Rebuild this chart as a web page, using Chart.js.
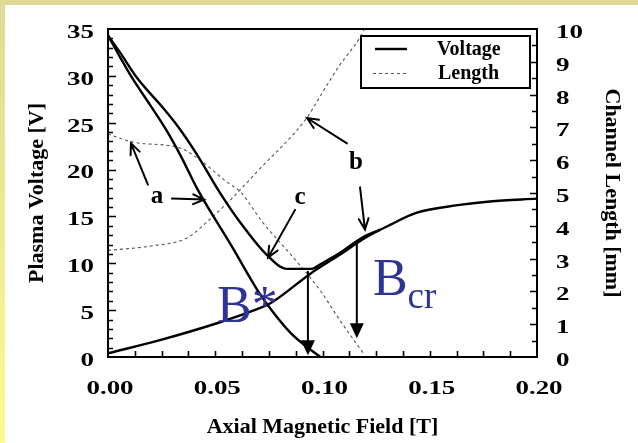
<!DOCTYPE html>
<html>
<head>
<meta charset="utf-8">
<script src="https://cdn.jsdelivr.net/npm/chart.js@4.4.0/dist/chart.umd.min.js"></script>
<style>
  html, body { margin: 0; padding: 0; }
  body { width: 638px; height: 443px; overflow: hidden; position: relative;
         background: linear-gradient(to bottom, #dfdb96, #fcfb8e); }
  #wrap { position: absolute; left: 5px; top: 5px; width: 633px; height: 438px; background: #fff; }
</style>
</head>
<body>
<div id="wrap"><canvas id="chart" width="633" height="438"></canvas></div>
<script>
// Voltage, curve "a" (drops to zero)
const fieldA   = [0, 0.0056, 0.0112, 0.0196, 0.0275, 0.0345, 0.0415, 0.058, 0.0695, 0.0746, 0.085, 0.092, 0.099];
const voltageA = [34.3, 32.0, 29.8, 26.9, 24.1, 21.2, 18.0, 11.7, 7.2, 5.5, 2.6, 1.2, 0];

// Voltage, curve "c" (drops to a plateau, then climbs)
const fieldC   = [0, 0.0056, 0.0135, 0.0256, 0.0326, 0.0415, 0.052, 0.0615, 0.074, 0.0834, 0.095, 0.099, 0.108, 0.119, 0.127];
const voltageC = [34.3, 32.5, 29.8, 26.6, 24.6, 21.6, 17.6, 14.4, 10.9, 9.4, 9.4, 9.9, 11.1, 12.8, 13.6];

// Voltage, rising branch
const fieldR   = [0, 0.0242, 0.0508, 0.0695, 0.0755, 0.095, 0.108, 0.119, 0.1315, 0.144, 0.163, 0.178, 0.2];
const voltageR = [0.4, 1.8, 3.6, 5.1, 5.7, 9.0, 10.9, 12.6, 14.1, 15.4, 16.2, 16.6, 16.9];

// Channel length, falling
const fieldLd  = [0, 0.0117, 0.0336, 0.043, 0.0555, 0.0615, 0.0723, 0.0862, 0.0988, 0.108, 0.119];
const lengthLd = [6.8, 6.55, 6.37, 6.0, 5.33, 5.05, 4.09, 3.05, 2.04, 1.13, 0.12];

// Channel length, rising
const fieldLu  = [0, 0.0196, 0.0368, 0.0475, 0.058, 0.0695, 0.0928, 0.0979, 0.1075, 0.118, 0.1195];
const lengthLu = [3.25, 3.38, 3.63, 4.2, 4.85, 5.65, 7.3, 7.84, 8.85, 9.8, 10];

const serif = '"Liberation Serif", "Times New Roman", serif';
const blue = '#2f3393';

const toPoints = (xs, ys) => xs.map((x, i) => ({ x, y: ys[i] }));

// arrows and labels, in (field, voltage) units
const pointers = [
  { from: [0.0186, 18.4], to: [0.0107, 22.8] },
  { from: [0.0298, 16.9], to: [0.0448, 16.8] },
  { from: [0.1114, 22.8], to: [0.0928, 25.5] },
  { from: [0.1175, 18.1], to: [0.1198, 13.6] },
  { from: [0.0872, 15.7], to: [0.0746, 10.6] }
];
const drops = [
  { x: 0.0932, top: 9.1, bottom: 0.2 },
  { x: 0.116, top: 12.0, bottom: 2.0 }
];
const letters = [
  { text: 'a', x: 0.0228, y: 17.1 },
  { text: 'b', x: 0.1156, y: 20.8 },
  { text: 'c', x: 0.0895, y: 17.0 }
];

const STRETCH = 1.42;
function wideText(ctx, str, x, y, align) {
  ctx.save();
  ctx.font = `bold 19px ${serif}`;
  const w = ctx.measureText(str).width * STRETCH;
  const left = align === 'right' ? x - w : align === 'center' ? x - w / 2 : x;
  ctx.translate(left, y);
  ctx.scale(STRETCH, 1);
  ctx.textAlign = 'left';
  ctx.textBaseline = 'middle';
  ctx.fillStyle = '#000';
  ctx.fillText(str, 0, 0);
  ctx.restore();
}

// frame, inward tick marks and tick labels
const axesPlugin = {
  id: 'axesFrame',
  afterDraw(chart) {
    const { ctx, chartArea: ca, scales: { x, y, y1 } } = chart;
    ctx.save();
    ctx.strokeStyle = '#000';
    ctx.lineWidth = 2;
    ctx.strokeRect(ca.left, ca.top, ca.right - ca.left, ca.bottom - ca.top);
    ctx.lineWidth = 1.6;
    ctx.beginPath();
    for (let v = 1; v < 35; v++) {
      const py = Math.round(y.getPixelForValue(v)) + 0.5;
      ctx.moveTo(ca.left, py);
      ctx.lineTo(ca.left + (v % 5 === 0 ? 8 : 5), py);
    }
    for (let k = 1; k < 20; k++) {
      const py = Math.round(y1.getPixelForValue(k / 2)) + 0.5;
      ctx.moveTo(ca.right, py);
      ctx.lineTo(ca.right - (k % 2 === 0 ? 7 : 5), py);
    }
    for (let k = 1; k < 16; k++) {
      const px = Math.round(x.getPixelForValue(k * 0.0125)) + 0.5;
      ctx.moveTo(px, ca.bottom);
      ctx.lineTo(px, ca.bottom - 6);
    }
    ctx.stroke();
    ctx.restore();

    y.ticks.forEach(t => wideText(ctx, String(t.value), ca.left - 14, y.getPixelForValue(t.value) + 4, 'right'));
    y1.ticks.forEach(t => wideText(ctx, String(t.value), ca.right + 19, y1.getPixelForValue(t.value) + 4, 'left'));
    x.ticks.forEach(t => wideText(ctx, t.value.toFixed(2), x.getPixelForValue(t.value) + 2, ca.bottom + 32, 'center'));
  }
};

function openArrow(ctx, x0, y0, x1, y1) {
  const ang = Math.atan2(y1 - y0, x1 - x0);
  const len = 12, spread = 0.42;
  ctx.beginPath();
  ctx.moveTo(x0, y0);
  ctx.lineTo(x1, y1);
  ctx.moveTo(x1 - len * Math.cos(ang - spread), y1 - len * Math.sin(ang - spread));
  ctx.lineTo(x1, y1);
  ctx.lineTo(x1 - len * Math.cos(ang + spread), y1 - len * Math.sin(ang + spread));
  ctx.stroke();
}

const notesPlugin = {
  id: 'notes',
  afterDatasetsDraw(chart) {
    const { ctx, scales: { x, y } } = chart;
    ctx.save();
    ctx.strokeStyle = '#000';
    ctx.fillStyle = '#000';
    ctx.lineWidth = 2;
    ctx.lineCap = 'round';
    pointers.forEach(p => openArrow(ctx,
      x.getPixelForValue(p.from[0]), y.getPixelForValue(p.from[1]),
      x.getPixelForValue(p.to[0]), y.getPixelForValue(p.to[1])));

    drops.forEach(d => {
      const px = x.getPixelForValue(d.x);
      const top = y.getPixelForValue(d.top);
      const tip = y.getPixelForValue(d.bottom);
      ctx.beginPath();
      ctx.moveTo(px, top);
      ctx.lineTo(px, tip - 12);
      ctx.stroke();
      ctx.beginPath();
      ctx.moveTo(px - 7, tip - 15);
      ctx.lineTo(px + 7, tip - 15);
      ctx.lineTo(px, tip);
      ctx.closePath();
      ctx.fill();
    });

    ctx.font = `bold 25px ${serif}`;
    ctx.textAlign = 'center';
    ctx.textBaseline = 'middle';
    letters.forEach(l => ctx.fillText(l.text, x.getPixelForValue(l.x), y.getPixelForValue(l.y)));

    ctx.fillStyle = blue;
    ctx.textAlign = 'left';
    ctx.textBaseline = 'alphabetic';
    ctx.font = `52px ${serif}`;
    ctx.fillText('B*', x.getPixelForValue(0.0508), y.getPixelForValue(3.7));
    const bx = x.getPixelForValue(0.1235);
    const by = y.getPixelForValue(6.6);
    ctx.fillText('B', bx, by);
    const bw = ctx.measureText('B').width;
    ctx.font = `37px ${serif}`;
    ctx.fillText('cr', bx + bw, by + 13);
    ctx.restore();
  }
};

const legendPlugin = {
  id: 'legendBox',
  afterDraw(chart) {
    const { ctx, chartArea: ca } = chart;
    const x0 = ca.right - 176, y0 = ca.top + 7;
    ctx.save();
    ctx.fillStyle = '#fff';
    ctx.fillRect(x0, y0, 169, 52);
    ctx.strokeStyle = '#000';
    ctx.lineWidth = 2;
    ctx.strokeRect(x0, y0, 169, 52);
    ctx.lineWidth = 2.4;
    ctx.beginPath();
    ctx.moveTo(x0 + 14, y0 + 13);
    ctx.lineTo(x0 + 46, y0 + 13);
    ctx.stroke();
    ctx.lineWidth = 1;
    ctx.strokeStyle = '#555';
    ctx.setLineDash([3, 3]);
    ctx.beginPath();
    ctx.moveTo(x0 + 12, y0 + 37.5);
    ctx.lineTo(x0 + 47, y0 + 37.5);
    ctx.stroke();
    ctx.setLineDash([]);
    ctx.fillStyle = '#000';
    ctx.font = `bold 20px ${serif}`;
    ctx.textBaseline = 'middle';
    ctx.fillText('Voltage', x0 + 76, y0 + 14);
    ctx.fillText('Length', x0 + 77, y0 + 38);
    ctx.restore();
  }
};

const solid = { borderColor: '#000', borderWidth: 2.4, pointRadius: 0, cubicInterpolationMode: 'monotone', yAxisID: 'y' };
const dashed = { borderColor: '#555', borderWidth: 1.1, borderDash: [3, 3], pointRadius: 0, cubicInterpolationMode: 'monotone', yAxisID: 'y1' };

new Chart(document.getElementById('chart').getContext('2d'), {
  type: 'line',
  data: {
    datasets: [
      { label: 'Voltage', data: toPoints(fieldA, voltageA), ...solid },
      { label: 'Voltage', data: toPoints(fieldC, voltageC), ...solid },
      { label: 'Voltage', data: toPoints(fieldR, voltageR), ...solid },
      { label: 'Length', data: toPoints(fieldLd, lengthLd), ...dashed },
      { label: 'Length', data: toPoints(fieldLu, lengthLu), ...dashed }
    ]
  },
  options: {
    responsive: false,
    animation: false,
    devicePixelRatio: 1,
    layout: { padding: { top: 24, left: 0, right: 0, bottom: 0 } },
    plugins: { legend: { display: false }, tooltip: { enabled: false } },
    scales: {
      x: {
        type: 'linear', min: 0, max: 0.2,
        ticks: { stepSize: 0.05, display: false },
        grid: { display: false }, border: { display: false },
        title: { display: true, text: 'Axial Magnetic Field [T]', color: '#000',
                 font: { family: serif, size: 22, weight: 'bold' }, padding: { top: 0, bottom: 2 } },
        afterFit: s => { s.height = 86; }
      },
      y: {
        position: 'left', min: 0, max: 35,
        ticks: { stepSize: 5, display: false },
        grid: { display: false }, border: { display: false },
        title: { display: true, text: 'Plasma Voltage [V]', color: '#000',
                 font: { family: serif, size: 22, weight: 'bold' }, padding: { top: 19, bottom: 0 } },
        afterFit: s => { s.width = 103; }
      },
      y1: {
        position: 'right', min: 0, max: 10,
        ticks: { stepSize: 1, display: false },
        grid: { display: false }, border: { display: false },
        title: { display: true, text: 'Channel Length [mm]', color: '#000',
                 font: { family: serif, size: 22, weight: 'bold' }, padding: { top: 13, bottom: 0 } },
        afterFit: s => { s.width = 101; }
      }
    }
  },
  plugins: [notesPlugin, axesPlugin, legendPlugin]
});
</script>
</body>
</html>
